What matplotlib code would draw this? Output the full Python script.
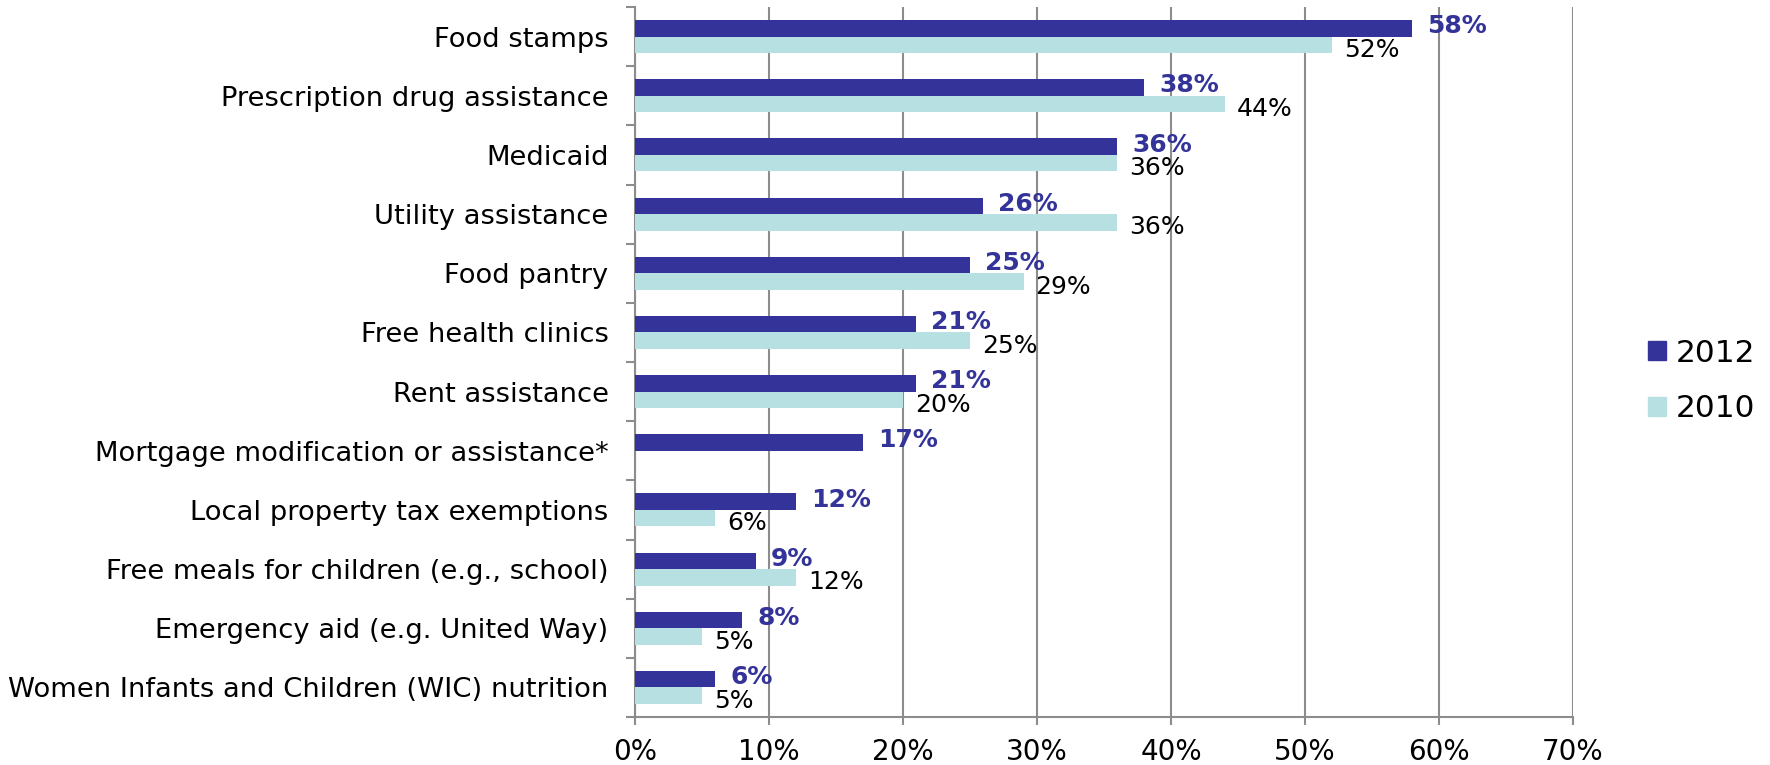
import numpy as np
import matplotlib.pyplot as plt
from matplotlib.patches import Patch

# Data
categories = [
    "Food stamps",
    "Prescription drug assistance",
    "Medicaid",
    "Utility assistance",
    "Food pantry",
    "Free health clinics",
    "Rent assistance",
    "Mortgage modification or assistance*",
    "Local property tax exemptions",
    "Free meals for children (e.g., school)",
    "Emergency aid (e.g. United Way)",
    "Women Infants and Children (WIC) nutrition",
]
vals_2012 = [58, 38, 36, 26, 25, 21, 21, 17, 12, 9, 8, 6]
vals_2010 = [52, 44, 36, 36, 29, 25, 20, None, 6, 12, 5, 5]
xticks = [0, 10, 20, 30, 40, 50, 60, 70]

DARK = "#333399"
LIGHT = "#b7e0e3"
GRID = "#8c8c8c"

W, H = 1770, 765
fig = plt.figure(figsize=(W / 100, H / 100), dpi=100)
ax = fig.add_axes([635 / W, 1 - 717 / H, (1573 - 635) / W, (717 - 7) / H])

n = len(categories)
pos = np.arange(n)
h = 0.28
y12 = pos - h / 2
y10 = pos + h / 2

ax.barh(y12, vals_2012, height=h, color=DARK, zorder=3)
v10 = [v if v is not None else 0 for v in vals_2010]
ax.barh(y10, v10, height=h, color=LIGHT, zorder=3)

# value labels
for y, v in zip(y12, vals_2012):
    ax.annotate(f"{v}%", (v, y), xytext=(15, 2), textcoords="offset pixels",
                ha="left", va="center", fontsize=18, fontweight="bold", color=DARK)
for y, v in zip(y10, vals_2010):
    if v is None:
        continue
    ax.annotate(f"{v}%", (v, y), xytext=(12, -5), textcoords="offset pixels",
                ha="left", va="center", fontsize=18, color="black")

ax.set_xlim(0, 70)
ax.set_ylim(n - 0.5, -0.5)
ax.set_xticks(xticks)
ax.set_xticklabels([f"{t}%" for t in xticks], fontsize=20)
ax.xaxis.grid(True, color=GRID, linewidth=1.5, zorder=0)
ax.set_axisbelow(True)

ax.set_yticks(pos)
ax.set_yticklabels(categories, fontsize=19.7)
ax.tick_params(axis="y", length=0, pad=19)
ax.set_yticks(np.arange(n + 1) - 0.5, minor=True)
ax.tick_params(axis="y", which="minor", length=6.5, color=GRID, width=1.5)
ax.tick_params(axis="x", length=6, color=GRID, width=1.5, pad=9)

for side in ["top", "right"]:
    ax.spines[side].set_visible(False)
for side in ["left", "bottom"]:
    ax.spines[side].set_color(GRID)
    ax.spines[side].set_linewidth(1.5)

handles = [Patch(color=DARK, label="2012"), Patch(color=LIGHT, label="2010")]
fig.legend(handles=handles, loc="center left", bbox_to_anchor=(1648 / W, 1 - 381 / H),
           frameon=False, fontsize=22.5, handlelength=0.58, handleheight=0.58,
           handletextpad=0.3, labelspacing=0.85, borderpad=0, borderaxespad=0)

fig.savefig("out.png", dpi=100)
